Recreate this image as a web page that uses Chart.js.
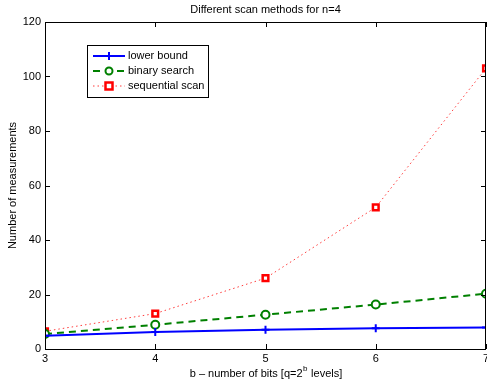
<!DOCTYPE html>
<html><head><meta charset="utf-8">
<script src="https://cdn.jsdelivr.net/npm/chart.js@4.4.1/dist/chart.umd.min.js"></script>
<style>html,body{margin:0;padding:0;background:#fff}#w{width:487px;height:386px}</style>
</head><body><div id="w"><canvas id="c" width="487" height="386"></canvas></div>
<script>
const bits = [3, 4, 5, 6, 7];
const lowerBound = [4.9, 6.2, 7.1, 7.6, 7.9];
const binarySearch = [5.5, 8.9, 12.6, 16.3, 20.3];
const sequentialScan = [6.5, 13, 26, 52, 103];
const yTicks = [0, 20, 40, 60, 80, 100, 120];
const xTicks = [3, 4, 5, 6, 7];
const titleText = 'Different scan methods for n=4';
const yTitle = 'Number of measurements';
const FONT = '"Liberation Sans", Arial, Helvetica, sans-serif';

function pts(arr){ return bits.map((b,i)=>({x:b,y:arr[i]})); }

const framePlugin = {
  id:'frame',
  afterDatasetsDraw(chart){
    const {ctx, chartArea:a, scales:{x,y}} = chart;
    ctx.save();
    ctx.strokeStyle='#000'; ctx.lineWidth=1;
    ctx.strokeRect(a.left+0.5, a.top+0.5, a.right-a.left-1, a.bottom-a.top);
    ctx.beginPath();
    const tl=5;
    xTicks.forEach(v=>{const px=Math.round(x.getPixelForValue(v))+0.5;
      ctx.moveTo(px,a.bottom); ctx.lineTo(px,a.bottom-tl);
      ctx.moveTo(px,a.top); ctx.lineTo(px,a.top+tl);});
    yTicks.forEach(v=>{const py=Math.round(y.getPixelForValue(v))+0.5;
      ctx.moveTo(a.left,py); ctx.lineTo(a.left+tl,py);
      ctx.moveTo(a.right,py); ctx.lineTo(a.right-tl,py);});
    ctx.stroke();
    ctx.fillStyle='#000'; ctx.font='11px '+FONT; ctx.textAlign='center'; ctx.textBaseline='middle';
    xTicks.forEach(v=>{ctx.fillText(String(v), x.getPixelForValue(v), a.bottom+10);});
    ctx.fillText(titleText,(a.left+a.right)/2,10);
    const parts = ['b \u2013 number of bits [q=2','b',' levels]'];
    ctx.font='11px '+FONT;
    const w0=ctx.measureText(parts[0]).width, w2=ctx.measureText(parts[2]).width;
    ctx.font='8px '+FONT; const w1=ctx.measureText(parts[1]).width;
    let sx=(a.left+a.right)/2-(w0+w1+w2)/2; const ty=374;
    ctx.textAlign='left';
    ctx.font='11px '+FONT; ctx.fillText(parts[0],sx,ty); sx+=w0;
    ctx.font='8px '+FONT; ctx.fillText(parts[1],sx+0.5,ty-5); sx+=w1+1;
    ctx.font='11px '+FONT; ctx.fillText(parts[2],sx,ty);
    ctx.save(); ctx.translate(13,(a.top+a.bottom)/2); ctx.rotate(-Math.PI/2);
    ctx.textAlign='center'; ctx.fillText(yTitle,0,0); ctx.restore();
    // legend
    const lx=87, ly=45, lw=121, lh=52;
    ctx.fillStyle='#fff'; ctx.fillRect(lx,ly,lw,lh);
    ctx.strokeStyle='#000'; ctx.lineWidth=1; ctx.strokeRect(lx+0.5,ly+0.5,lw,lh);
    chart.data.datasets.forEach((ds,i)=>{
      const yy=ly+11+i*15;
      ctx.save();
      ctx.strokeStyle=ds.borderColor; ctx.lineWidth=ds.borderWidth; ctx.setLineDash(ds.borderDash||[]);
      ctx.beginPath(); ctx.moveTo(lx+6,yy); ctx.lineTo(lx+38,yy); ctx.stroke();
      ctx.setLineDash([]);
      const cx=lx+22;
      ctx.lineWidth=ds.pointBorderWidth;
      ctx.strokeStyle=ds.pointBorderColor; ctx.fillStyle=ds.pointBackgroundColor;
      if(ds.pointStyle==='cross'){ctx.beginPath();ctx.moveTo(cx-4,yy);ctx.lineTo(cx+4,yy);ctx.moveTo(cx,yy-4);ctx.lineTo(cx,yy+4);ctx.stroke();}
      else if(ds.pointStyle==='circle'){ctx.beginPath();ctx.arc(cx,yy,3.5,0,Math.PI*2);ctx.fill();ctx.stroke();}
      else {ctx.beginPath();ctx.rect(cx-3.5,yy-3.5,7,7);ctx.fill();ctx.stroke();}
      ctx.restore();
      ctx.fillStyle='#000'; ctx.font='11px '+FONT; ctx.textAlign='left'; ctx.textBaseline='middle';
      ctx.fillText(ds.label,lx+41,yy);
    });
    ctx.restore();
  }
};

new Chart(document.getElementById('c'),{
  type:'line',
  data:{datasets:[
    {label:'lower bound',data:pts(lowerBound),borderColor:'rgb(0,0,255)',borderWidth:2,
     pointStyle:'cross',pointRadius:4,pointBorderColor:'rgb(0,0,255)',pointBackgroundColor:'rgb(0,0,255)',pointBorderWidth:2},
    {label:'binary search',data:pts(binarySearch),borderColor:'rgb(0,128,0)',borderWidth:2,borderDash:[7,5],
     pointStyle:'circle',pointRadius:4,pointBorderColor:'rgb(0,128,0)',pointBackgroundColor:'#fff',pointBorderWidth:2},
    {label:'sequential scan',data:pts(sequentialScan),borderColor:'rgb(255,60,60)',borderWidth:1,borderDash:[1.5,3],
     pointStyle:'rect',pointRadius:4,pointBorderColor:'rgb(255,0,0)',pointBackgroundColor:'#fff',pointBorderWidth:2.5}
  ]},
  options:{
    responsive:false,animation:false,
    layout:{autoPadding:false,padding:{top:22,right:1,left:0,bottom:0}},
    plugins:{legend:{display:false},title:{display:false},tooltip:{enabled:false}},
    scales:{
      x:{type:'linear',min:3,max:7,
        afterBuildTicks(s){s.ticks=xTicks.map(v=>({value:v}));},
        afterFit(s){s.height=37;s.paddingLeft=0;s.paddingRight=0;},
        grid:{display:false,drawTicks:false},border:{display:false},
        ticks:{display:false}},
      y:{min:0,max:120,
        afterBuildTicks(s){s.ticks=yTicks.map(v=>({value:v}));},
        afterFit(s){s.width=45;s.paddingTop=0;s.paddingBottom=0;},
        grid:{display:false,drawTicks:false},border:{display:false},
        ticks:{color:'#000',font:{family:FONT,size:11},padding:4}}
    }
  },
  plugins:[framePlugin]
});
</script></body></html>
